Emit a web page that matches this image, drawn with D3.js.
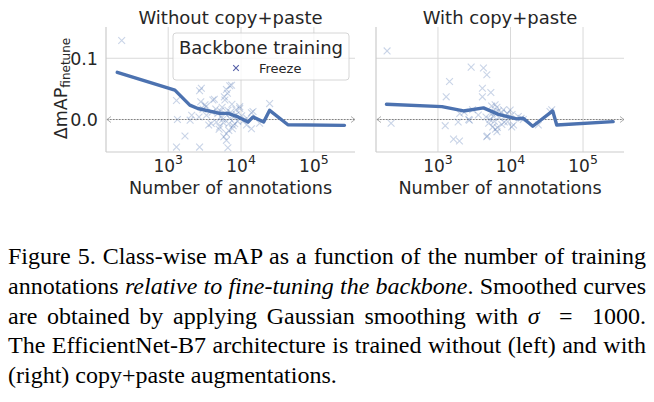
<!DOCTYPE html>
<html>
<head>
<meta charset="utf-8">
<script src="https://cdn.jsdelivr.net/npm/d3@7"></script>
<style>
  body { margin: 0; background: #fff; width: 654px; height: 402px; overflow: hidden; }
  #chart { position: absolute; left: 0; top: 0; }
  #caption {
    position: absolute; left: 8px; top: 242px; width: 638px;
    font-family: "Liberation Serif", "Times New Roman", serif;
    font-size: 24px; line-height: 29.8px; color: #000;
  }
  #caption .ln { text-align: justify; text-align-last: justify; white-space: nowrap; }
  #caption .ln.last { text-align-last: left; }
</style>
</head>
<body>
<div id="chart"></div>
<div id="caption">
  <div class="ln">Figure 5. Class-wise mAP as a function of the number of training</div>
  <div class="ln">annotations <i>relative to fine-tuning the backbone</i>. Smoothed curves</div>
  <div class="ln">are obtained by applying Gaussian smoothing with <i>σ</i> &nbsp;= &nbsp;1000.</div>
  <div class="ln">The EfficientNet-B7 architecture is trained without (left) and with</div>
  <div class="ln last">(right) copy+paste augmentations.</div>
</div>
<script>
'use strict'

// panel titles and tick labels
const panelTitles = ['Without copy+paste', 'With copy+paste'];
const xTickExps = [3, 4, 5];
const yTicks = [0.0, 0.1];

// smoothed curves: [annotations, delta mAP]
const leftCurve = [
    [200, 0.077], [1235, 0.048], [1980, 0.0235], [2550, 0.018], [5100, 0.010],
    [6640, 0.010], [9100, 0.0043], [12470, -0.004], [14600, 0.0043], [20460, -0.004],
    [24700, 0.015], [44000, -0.0085], [263000, -0.0095]
];
const rightCurve = [
    [195, 0.025], [1135, 0.021], [2250, 0.014], [4240, 0.019], [6820, 0.0085],
    [12190, 0.001], [15000, 0.002], [20270, -0.011], [38200, 0.014], [43400, -0.009],
    [260000, -0.0035]
];

// per-class points (Freeze)
const leftPoints = [
    [230, 0.129], [1300, 0.031], [1340, 0.0], [1700, -0.027], [1300, -0.045],
    [2700, -0.045], [6600, -0.046], [2700, 0.047], [2850, 0.051], [2800, 0.029],
    [2100, 0.007], [2000, -0.001], [2650, 0.004], [3300, 0.021], [3200, 0.024],
    [3350, 0.007], [3600, -0.009], [4100, 0.032], [4300, 0.033], [3900, -0.0066],
    [4600, -0.004], [5100, -0.012], [4800, 0.010], [5500, 0.020], [5600, 0.0],
    [5900, 0.037], [6000, 0.032], [6300, 0.049], [6300, -0.023], [6300, -0.034],
    [6500, 0.043], [6800, -0.018], [7000, 0.055], [7400, 0.056], [7000, 0.002],
    [6800, -0.007], [7200, 0.012], [7500, 0.025], [7800, -0.010], [8200, -0.007],
    [8000, 0.005], [8500, 0.016], [9000, -0.003], [9600, 0.021], [9600, 0.018],
    [10200, 0.006], [10800, -0.002], [11900, -0.009], [13900, -0.015], [13900, 0.011],
    [14600, 0.013], [24700, 0.026], [5200, 0.014], [5300, 0.005], [5700, -0.005],
    [6100, 0.009], [4500, 0.017], [4000, 0.012], [5000, -0.016], [5800, -0.028],
    [6600, 0.015], [7600, -0.015], [8600, 0.008], [3000, 0.017], [12000, 0.002],
    [18000, -0.006]
];
const rightPoints = [
    [199, 0.112], [226, -0.006], [2870, 0.0855], [4240, 0.084], [4720, 0.073],
    [1445, 0.062], [1300, 0.037], [4100, 0.051], [4100, 0.037], [5360, 0.044],
    [1260, -0.010], [1640, -0.032], [1980, -0.035], [1900, -0.004], [2720, -0.001],
    [2650, 0.0], [3600, 0.0075], [4800, -0.027], [4700, -0.028], [5000, -0.006],
    [6140, 0.024], [5500, 0.022], [6500, 0.020], [6500, -0.020], [5700, -0.012],
    [5600, 0.010], [6200, 0.012], [6800, 0.014], [7000, 0.003], [7500, 0.011],
    [8000, 0.016], [8500, 0.006], [9000, 0.010], [9900, 0.0155], [10500, 0.008],
    [11000, -0.009], [10400, -0.012], [9200, -0.0035], [12800, 0.005], [15000, 0.0],
    [14000, 0.002], [24200, -0.009], [37000, 0.016], [35000, 0.013], [2300, 0.012],
    [3000, 0.016], [2000, 0.010], [4600, 0.004], [5200, 0.0], [6000, -0.003],
    [7600, -0.008], [8200, -0.004], [5800, 0.005], [6600, -0.013], [6200, -0.016]
];

const blue = '#4c72b0',
    ink = '#262626',
    gridCol = '#d9d9d9',
    font = '"DejaVu Sans", sans-serif';

let svg = d3.select('#chart')
    .append('svg')
        .attr('width', 654)
        .attr('height', 230);

let plotTop = 27, plotBottom = 152;
let panels = [
    {left: 106, right: 355, title: panelTitles[0], curve: leftCurve, points: leftPoints, yLabels: true, legend: true},
    {left: 376, right: 624, title: panelTitles[1], curve: rightCurve, points: rightPoints, yLabels: false, legend: false}
];

let y = d3.scaleLinear()
    .domain([-0.053, 0.151])
    .range([plotBottom, plotTop]);

panels.forEach(p => {
    let x = d3.scaleLog()
        .domain([140, 367000])
        .range([p.left, p.right]);

    let g = svg.append('g');

    // Grid.
    g.selectAll('line.vgrid')
        .data(xTickExps)
        .join('line')
            .attr('x1', d => x(Math.pow(10, d)))
            .attr('x2', d => x(Math.pow(10, d)))
            .attr('y1', plotTop)
            .attr('y2', plotBottom)
            .attr('stroke', gridCol)
            .attr('stroke-width', 1);

    g.selectAll('line.hgrid')
        .data(yTicks)
        .join('line')
            .attr('x1', p.left)
            .attr('x2', p.right)
            .attr('y1', d => y(d))
            .attr('y2', d => y(d))
            .attr('stroke', gridCol)
            .attr('stroke-width', 1);

    // Spines.
    g.append('line')
        .attr('x1', p.left).attr('x2', p.left)
        .attr('y1', plotTop).attr('y2', plotBottom)
        .attr('stroke', '#cccccc').attr('stroke-width', 1.2);
    g.append('line')
        .attr('x1', p.left).attr('x2', p.right)
        .attr('y1', plotBottom).attr('y2', plotBottom)
        .attr('stroke', '#cccccc').attr('stroke-width', 1.2);

    // Zero reference: dotted double arrow.
    let y0 = y(0);
    g.append('line')
        .attr('x1', p.left + 1).attr('x2', p.right)
        .attr('y1', y0).attr('y2', y0)
        .attr('stroke', '#808080')
        .attr('stroke-width', 1)
        .attr('stroke-dasharray', '1.5,1.5');
    g.append('path')
        .attr('d', `M${p.left + 5},${y0 - 3}L${p.left + 1},${y0}L${p.left + 5},${y0 + 3}`)
        .attr('fill', 'none').attr('stroke', '#999').attr('stroke-width', 0.8);
    g.append('path')
        .attr('d', `M${p.right - 4},${y0 - 3}L${p.right},${y0}L${p.right - 4},${y0 + 3}`)
        .attr('fill', 'none').attr('stroke', '#999').attr('stroke-width', 0.8);

    // Scatter crosses.
    let s = 3.4;
    g.selectAll('path.pt')
        .data(p.points)
        .join('path')
            .attr('class', 'pt')
            .attr('d', d => {
                let cx = x(d[0]), cy = y(d[1]);
                return `M${cx - s},${cy - s}L${cx + s},${cy + s}M${cx - s},${cy + s}L${cx + s},${cy - s}`;
            })
            .attr('stroke', blue)
            .attr('stroke-opacity', 0.3)
            .attr('stroke-width', 1.1);

    // Smoothed curve.
    g.append('path')
        .datum(p.curve)
        .attr('d', d3.line().x(d => x(d[0])).y(d => y(d[1])))
        .attr('fill', 'none')
        .attr('stroke', blue)
        .attr('stroke-width', 3.4)
        .attr('stroke-linejoin', 'round')
        .attr('stroke-linecap', 'round');

    // X tick labels 10^k.
    let xt = g.selectAll('text.xt')
        .data(xTickExps)
        .join('text')
            .attr('x', d => x(Math.pow(10, d)))
            .attr('y', 171.5)
            .attr('text-anchor', 'middle')
            .attr('font-family', font)
            .attr('font-size', 17)
            .attr('fill', ink);
    xt.append('tspan').text('10');
    xt.append('tspan')
        .attr('dy', -7.5)
        .attr('font-size', 12.5)
        .text(d => d);

    // X label.
    g.append('text')
        .attr('x', (p.left + p.right) / 2)
        .attr('y', 193.5)
        .attr('text-anchor', 'middle')
        .attr('font-family', font)
        .attr('font-size', 17.6)
        .attr('fill', ink)
        .text('Number of annotations');

    // Title.
    g.append('text')
        .attr('x', (p.left + p.right) / 2)
        .attr('y', 23.5)
        .attr('text-anchor', 'middle')
        .attr('font-family', font)
        .attr('font-size', 18)
        .attr('fill', ink)
        .text(p.title);

    if (p.yLabels) {
        g.selectAll('text.yt')
            .data(yTicks)
            .join('text')
                .attr('x', p.left - 8)
                .attr('y', d => y(d) + 6.3)
                .attr('text-anchor', 'end')
                .attr('font-family', font)
                .attr('font-size', 17.5)
                .attr('fill', ink)
                .text(d => d.toFixed(1));

        let yl = g.append('text')
            .attr('transform', `translate(67, ${(plotTop + plotBottom) / 2 - 1}) rotate(-90)`)
            .attr('text-anchor', 'middle')
            .attr('font-family', font)
            .attr('font-size', 17.5)
            .attr('fill', ink);
        yl.append('tspan').text('ΔmAP');
        yl.append('tspan')
            .attr('dy', 3)
            .attr('font-size', 12)
            .text('finetune');
    }

    if (p.legend) {
        let lg = g.append('g');
        lg.append('rect')
            .attr('x', 173).attr('y', 33)
            .attr('width', 176).attr('height', 47)
            .attr('rx', 3)
            .attr('fill', '#fff').attr('fill-opacity', 0.8)
            .attr('stroke', '#cccccc').attr('stroke-width', 0.8);
        lg.append('text')
            .attr('x', 261).attr('y', 53.5)
            .attr('text-anchor', 'middle')
            .attr('font-family', font)
            .attr('font-size', 18)
            .attr('fill', ink)
            .text('Backbone training');
        let mx = 236, my = 68, ms = 2.8;
        lg.append('path')
            .attr('d', `M${mx - ms},${my - ms}L${mx + ms},${my + ms}M${mx - ms},${my + ms}L${mx + ms},${my - ms}`)
            .attr('stroke', '#5560a8').attr('stroke-width', 1.1);
        lg.append('text')
            .attr('x', 259).attr('y', 72.5)
            .attr('font-family', font)
            .attr('font-size', 13)
            .attr('fill', ink)
            .text('Freeze');
    }
});
</script>
</body>
</html>
